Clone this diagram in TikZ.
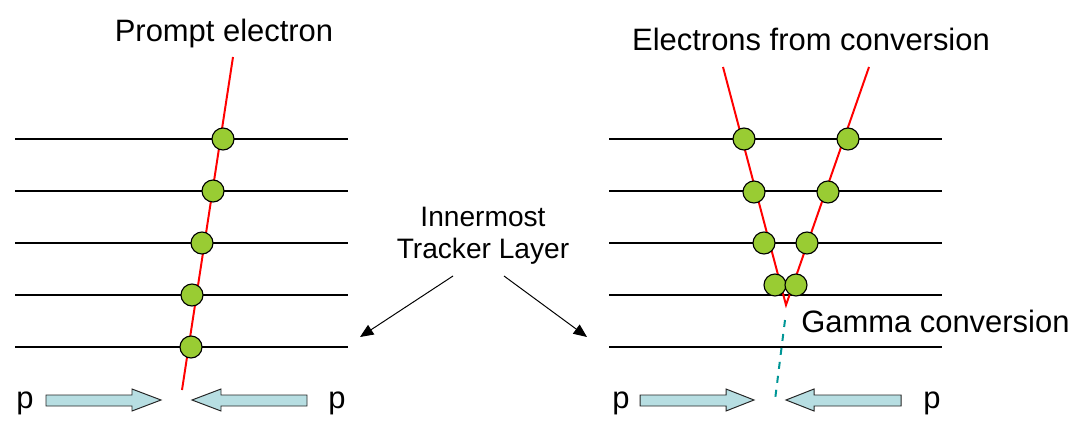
\documentclass[tikz,border=0pt]{standalone}
\usepackage{fontspec}
\setmainfont{Liberation Sans}
\usetikzlibrary{arrows.meta}
\definecolor{hitgreen}{RGB}{153,204,51}
\definecolor{beamblue}{RGB}{183,222,226}
\definecolor{gammateal}{RGB}{0,150,150}

\begin{document}
\begin{tikzpicture}[x=0.025cm,y=-0.025cm,
    layer/.style={line width=1.7pt},
    track/.style={red,line width=1.4pt},
    hit/.style={circle,draw,fill=hitgreen,line width=0.8pt,minimum size=0.55cm,inner sep=0pt},
    beam/.style={draw=black!85,fill=beamblue,line width=0.7pt},
    gamma/.style={gammateal,line width=1.4pt,dash pattern=on 5pt off 5pt},
    lbl/.style={font=\fontsize{22}{26}\selectfont,inner sep=0pt},
    small/.style={font=\fontsize{20}{23}\selectfont,inner sep=0pt},
    ptr/.style={line width=0.7pt,-{Triangle[length=9.5pt,width=8pt]}}]
    \useasboundingbox (0,0) rectangle (1083,433);

    % tracker layers
    \foreach \y in {139,191,243,295,347} {
        \draw[layer] (15,\y) -- (348,\y);
        \draw[layer] (609,\y) -- (942,\y);
    }

    % prompt electron
    \coordinate (pTop) at (233,57);
    \coordinate (pEnd) at (182,390);
    \draw[track] (pTop) -- (pEnd);
    \node[hit] (l1) at (223,139) {};
    \node[hit] (l2) at (213,191) {};
    \node[hit] (l3) at (202,243) {};
    \node[hit] (l4) at (192,295) {};
    \node[hit] (l5) at (191,347) {};

    % conversion pair
    \coordinate (vtx) at (786,305);
    \coordinate (aTop) at (723,67);
    \coordinate (bTop) at (869,67);
    \coordinate (gBeg) at (785,320);
    \coordinate (gEnd) at (775,400);
    \draw[gamma] (gBeg) -- (gEnd);
    \draw[track] (aTop) -- (vtx) -- (bTop);
    \node[hit] (a1) at (744,139) {};
    \node[hit] (a2) at (754,192) {};
    \node[hit] (a3) at (764,243) {};
    \node[hit] (a4) at (775,285) {};
    \node[hit] (b1) at (848,139) {};
    \node[hit] (b2) at (828,192) {};
    \node[hit] (b3) at (807,243) {};
    \node[hit] (b4) at (796,285) {};

    % proton beams
    \foreach \a/\b/\c in {46/132/161, 307/221/192, 640/726/754, 901/814/786}
        \draw[beam] (\a,395) -- (\b,395) -- (\b,389) -- (\c,400) -- (\b,411) -- (\b,406) -- (\a,406) -- cycle;
    \node[lbl,anchor=base] (p1) at (25,408) {p};
    \node[lbl,anchor=base] (p2) at (337,408) {p};
    \node[lbl,anchor=base] (p3) at (621,408) {p};
    \node[lbl,anchor=base] (p4) at (932,408) {p};

    % labels
    \node[lbl,anchor=base] (prompt) at (224,42) {Prompt electron};
    \node[lbl,anchor=base] (pair) at (811,51) {Electrons from conversion};
    \node[lbl,anchor=base west] (conv) at (801,332) {Gamma conversion};
    \node[small,anchor=base] (inner) at (483,226) {Innermost};
    \node[small,anchor=base] (tracker) at (483,258) {Tracker Layer};

    \coordinate (tl) at (453,276);
    \coordinate (tr) at (504,276);
    \coordinate (hl) at (360,337);
    \coordinate (hr) at (587,337);
    \draw[ptr] (tl) -- (hl);
    \draw[ptr] (tr) -- (hr);
\end{tikzpicture}
\end{document}
